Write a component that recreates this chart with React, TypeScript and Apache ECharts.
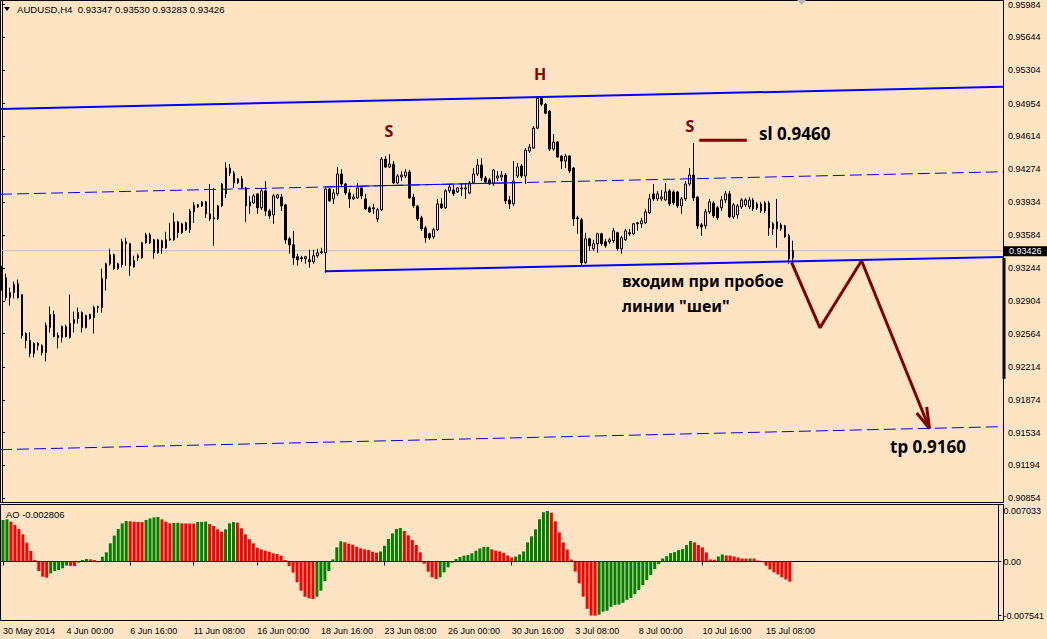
import React, { useEffect, useRef } from "react";
import * as echarts from "echarts";

const BG = "#FFE4C4";
const AXIS_FONT = "Liberation Sans";
const NOTE_FONT = "Noto Sans";
const MAROON = "#800000";
const BLUE = "#0000FF";

// ---- price data (H4 bars, 30 May 2014 08:00 .. 16 Jul 2014 08:00) ----
const opens = [
  0.93259, 0.93145, 0.92938, 0.9299, 0.93083, 0.92969, 0.92565, 0.92493, 0.92358, 0.92462,
  0.92441, 0.92368, 0.92627, 0.92762, 0.92544, 0.92524, 0.92638, 0.92524, 0.92669, 0.92721,
  0.92783, 0.92627, 0.92762, 0.92731, 0.92835, 0.92835, 0.93135, 0.9329, 0.93384, 0.93239,
  0.9328, 0.93518, 0.93498, 0.93259, 0.93352, 0.93352, 0.93508, 0.93591, 0.93539, 0.93404,
  0.93529, 0.93456, 0.93549, 0.93539, 0.93725, 0.93612, 0.93715, 0.93643, 0.93829, 0.93902,
  0.93891, 0.93933, 0.93808, 0.93767, 0.93757, 0.93891, 0.94016, 0.94285, 0.94233, 0.9413,
  0.94171, 0.94078, 0.93891, 0.93922, 0.94016, 0.93871, 0.94047, 0.93839, 0.93798, 0.93974,
  0.93984, 0.93902, 0.93549, 0.93487, 0.93363, 0.93352, 0.93342, 0.93332, 0.93311, 0.93373,
  0.93404, 0.93404, 0.94067, 0.93964, 0.94016, 0.94223, 0.94119, 0.94026, 0.93964, 0.93974,
  0.94078, 0.93964, 0.93871, 0.93871, 0.93757, 0.9385, 0.94378, 0.94295, 0.94326, 0.9413,
  0.94192, 0.94202, 0.94243, 0.93984, 0.93891, 0.93767, 0.93663, 0.93601, 0.9357, 0.93643,
  0.93912, 0.93871, 0.94047, 0.94057, 0.94036, 0.94078, 0.94067, 0.94026, 0.9413, 0.94223,
  0.94316, 0.94181, 0.94161, 0.94119, 0.94181, 0.94192, 0.94212, 0.93953, 0.93912, 0.94202,
  0.94306, 0.94202, 0.94461, 0.94492, 0.94699, 0.9501, 0.94948, 0.94875, 0.94482, 0.94554,
  0.94409, 0.94357, 0.94409, 0.94285, 0.93767, 0.93746, 0.93301, 0.93549, 0.93446, 0.93498,
  0.93601, 0.93518, 0.93518, 0.93529, 0.93612, 0.93446, 0.93539, 0.93612, 0.93601, 0.93705,
  0.93705, 0.93715, 0.93819, 0.94016, 0.93964, 0.93964, 0.93953, 0.94047, 0.94036, 0.94036,
  0.93891, 0.93964, 0.94119, 0.94212, 0.93984, 0.93694, 0.93684, 0.93829, 0.93922, 0.93871,
  0.93871, 0.93953, 0.94016, 0.93777, 0.93798, 0.93881, 0.93902, 0.93881, 0.93953, 0.93871,
  0.93839, 0.93839, 0.93922, 0.93705, 0.93725, 0.93653, 0.93684, 0.9358, 0.93347,
];
const highs = [
  0.9327, 0.93187, 0.93042, 0.93104, 0.93125, 0.92969, 0.92576, 0.92576, 0.92472, 0.92472,
  0.92451, 0.92679, 0.92845, 0.92803, 0.92576, 0.92648, 0.92658, 0.92969, 0.92793, 0.92835,
  0.92793, 0.92762, 0.92772, 0.92855, 0.92855, 0.93239, 0.93301, 0.93446, 0.93394, 0.93301,
  0.93549, 0.9356, 0.93508, 0.93373, 0.93394, 0.93518, 0.93612, 0.93612, 0.93549, 0.93549,
  0.93539, 0.93622, 0.93715, 0.93819, 0.93736, 0.93715, 0.93725, 0.9386, 0.93933, 0.93912,
  0.93943, 0.93943, 0.94119, 0.94078, 0.93902, 0.9413, 0.94347, 0.94326, 0.94254, 0.94181,
  0.94202, 0.94088, 0.93995, 0.94016, 0.94026, 0.94067, 0.9415, 0.9386, 0.94016, 0.94016,
  0.94016, 0.93912, 0.9357, 0.93632, 0.93394, 0.93373, 0.93373, 0.93435, 0.93435, 0.93446,
  0.93456, 0.94078, 0.94078, 0.94067, 0.94295, 0.94275, 0.9413, 0.94067, 0.94016, 0.9413,
  0.94098, 0.94016, 0.93891, 0.93912, 0.93871, 0.94399, 0.94409, 0.9443, 0.94357, 0.94223,
  0.94254, 0.94275, 0.94264, 0.94016, 0.93902, 0.93788, 0.93684, 0.93612, 0.93663, 0.93964,
  0.93974, 0.94067, 0.94119, 0.94109, 0.94088, 0.94119, 0.94119, 0.9415, 0.94285, 0.94378,
  0.94389, 0.94202, 0.94181, 0.94275, 0.94254, 0.94254, 0.94233, 0.93995, 0.94357, 0.94337,
  0.94326, 0.94492, 0.94534, 0.9472, 0.95031, 0.9502, 0.94958, 0.94886, 0.94637, 0.94565,
  0.9442, 0.9443, 0.9442, 0.94295, 0.93788, 0.93767, 0.93612, 0.9356, 0.93539, 0.93612,
  0.93612, 0.93549, 0.9356, 0.93663, 0.93622, 0.9358, 0.93653, 0.93653, 0.93715, 0.93725,
  0.93767, 0.9386, 0.94016, 0.94119, 0.94047, 0.94057, 0.9413, 0.94067, 0.94057, 0.94047,
  0.93984, 0.9415, 0.94285, 0.94544, 0.93995, 0.93715, 0.9386, 0.93964, 0.93943, 0.93891,
  0.93995, 0.94047, 0.94047, 0.93922, 0.93912, 0.93974, 0.93974, 0.93984, 0.93974, 0.93933,
  0.93933, 0.93943, 0.93943, 0.93725, 0.93964, 0.93715, 0.93694, 0.93601, 0.9353,
];
const lows = [
  0.93011, 0.92907, 0.92855, 0.92928, 0.92928, 0.92513, 0.9241, 0.92317, 0.92317, 0.92389,
  0.92337, 0.92275, 0.92576, 0.92524, 0.9241, 0.92472, 0.92524, 0.92513, 0.92576, 0.92669,
  0.92576, 0.92617, 0.9271, 0.92565, 0.92783, 0.92783, 0.93011, 0.9327, 0.93228, 0.93228,
  0.93249, 0.9327, 0.93166, 0.93249, 0.93321, 0.93342, 0.93498, 0.93498, 0.93342, 0.93394,
  0.93394, 0.93446, 0.93529, 0.93529, 0.9356, 0.93601, 0.93632, 0.93612, 0.93715, 0.93871,
  0.93881, 0.93767, 0.93736, 0.93477, 0.93746, 0.93881, 0.93974, 0.94202, 0.94078, 0.94119,
  0.94067, 0.93725, 0.93808, 0.93912, 0.93808, 0.9385, 0.93788, 0.93757, 0.93705, 0.93964,
  0.93839, 0.93498, 0.93394, 0.9328, 0.9327, 0.93311, 0.9329, 0.93249, 0.9329, 0.93352,
  0.93394, 0.93197, 0.93933, 0.93912, 0.93995, 0.94088, 0.94005, 0.93871, 0.93953, 0.93964,
  0.93964, 0.9385, 0.93819, 0.93808, 0.93725, 0.93839, 0.94285, 0.94285, 0.94119, 0.94119,
  0.9415, 0.94181, 0.93964, 0.93871, 0.93736, 0.93632, 0.93508, 0.93539, 0.93549, 0.93632,
  0.9386, 0.9386, 0.94026, 0.93995, 0.94026, 0.93995, 0.93964, 0.94016, 0.94119, 0.94202,
  0.9415, 0.9413, 0.94109, 0.94098, 0.9415, 0.9415, 0.93912, 0.9386, 0.93891, 0.94181,
  0.94181, 0.94119, 0.9444, 0.94482, 0.94689, 0.94927, 0.94844, 0.94461, 0.94461, 0.94389,
  0.94275, 0.94285, 0.94233, 0.93684, 0.93601, 0.9327, 0.9329, 0.93425, 0.93425, 0.93404,
  0.93477, 0.93456, 0.93498, 0.93508, 0.93425, 0.93394, 0.93529, 0.9358, 0.93591, 0.93632,
  0.93663, 0.93705, 0.93808, 0.93943, 0.93943, 0.93943, 0.93943, 0.93891, 0.93902, 0.93871,
  0.93808, 0.93943, 0.94098, 0.93943, 0.93653, 0.9358, 0.93653, 0.93808, 0.93767, 0.93746,
  0.93839, 0.93922, 0.93767, 0.93757, 0.93757, 0.9386, 0.93881, 0.9386, 0.93839, 0.9385,
  0.93819, 0.93819, 0.9358, 0.93591, 0.93456, 0.93632, 0.9356, 0.9329, 0.93283,
];
const closes = [
  0.93135, 0.92938, 0.9299, 0.93073, 0.92938, 0.92544, 0.92493, 0.92358, 0.92462, 0.92441,
  0.92368, 0.92648, 0.92762, 0.92534, 0.92524, 0.92638, 0.92534, 0.92669, 0.9271, 0.92783,
  0.92627, 0.92752, 0.92721, 0.92835, 0.92845, 0.93135, 0.9329, 0.93384, 0.93239, 0.9329,
  0.93518, 0.93498, 0.9327, 0.93321, 0.93373, 0.93508, 0.93591, 0.93508, 0.93404, 0.93539,
  0.93456, 0.93539, 0.93539, 0.93725, 0.93612, 0.93705, 0.93643, 0.93839, 0.93902, 0.93881,
  0.93933, 0.93808, 0.93757, 0.93757, 0.93891, 0.94119, 0.94285, 0.94233, 0.9413, 0.94171,
  0.94078, 0.93891, 0.93933, 0.93995, 0.93871, 0.94047, 0.93839, 0.93788, 0.93995, 0.94005,
  0.93891, 0.93539, 0.93487, 0.93352, 0.93332, 0.93342, 0.93363, 0.93311, 0.93373, 0.93404,
  0.93415, 0.94067, 0.93943, 0.94026, 0.94223, 0.94119, 0.94026, 0.93964, 0.93984, 0.94078,
  0.93995, 0.9386, 0.93829, 0.9386, 0.9385, 0.94378, 0.94295, 0.94326, 0.9413, 0.94202,
  0.94212, 0.94243, 0.93974, 0.93891, 0.93757, 0.93653, 0.9356, 0.9356, 0.93643, 0.93912,
  0.93871, 0.94047, 0.94088, 0.94016, 0.94078, 0.94067, 0.94078, 0.9413, 0.94223, 0.94316,
  0.94181, 0.9414, 0.94119, 0.94264, 0.94202, 0.94212, 0.93943, 0.93912, 0.9415, 0.94295,
  0.94202, 0.94471, 0.94502, 0.94699, 0.9501, 0.94948, 0.94855, 0.94482, 0.94554, 0.94399,
  0.94357, 0.94409, 0.94254, 0.93757, 0.93757, 0.93301, 0.93549, 0.93477, 0.93498, 0.93601,
  0.93498, 0.93477, 0.93539, 0.93632, 0.93446, 0.9356, 0.93632, 0.93601, 0.93705, 0.93715,
  0.93736, 0.93829, 0.93964, 0.93964, 0.94016, 0.93984, 0.94036, 0.93912, 0.93922, 0.93891,
  0.93964, 0.94119, 0.94212, 0.93974, 0.93684, 0.93674, 0.93829, 0.93933, 0.93788, 0.93767,
  0.93953, 0.94016, 0.93777, 0.93902, 0.93891, 0.93953, 0.93953, 0.93953, 0.9386, 0.93912,
  0.93912, 0.93922, 0.93663, 0.93653, 0.93653, 0.93694, 0.9357, 0.93342, 0.93426,
];

// ---- Awesome Oscillator values (one per bar) ----
const aoValues = [
  0.00578, 0.00587, 0.00554, 0.00508, 0.00452, 0.00378, 0.00262, 0.00146, 0.00021, -0.00132,
  -0.00211, -0.00225, -0.00165, -0.00132, -0.00118, -0.00095, -0.00055, -0.00062, -0.00064, -0.00016,
  0.00021, 0.00035, 0.0003, 0.0002, -0.0001, 0.00067, 0.00128, 0.00253, 0.0036, 0.00452,
  0.00531, 0.00564, 0.0056, 0.00552, 0.0055, 0.00548, 0.00578, 0.006, 0.00615, 0.00619,
  0.00587, 0.00554, 0.00531, 0.00536, 0.00538, 0.00531, 0.0053, 0.00529, 0.00528, 0.0055,
  0.00552, 0.00555, 0.00522, 0.00494, 0.00448, 0.00415, 0.00448, 0.00531, 0.0055, 0.0054,
  0.00462, 0.00378, 0.00309, 0.00253, 0.00193, 0.00169, 0.00151, 0.00137, 0.00114, 0.00104,
  0.00081, 0.00021, -0.00063, -0.00155, -0.0029, -0.00406, -0.0049, -0.00513, -0.00522, -0.0049,
  -0.00406, -0.00271, -0.00132, 0.0003, 0.00197, 0.00281, 0.00267, 0.00248, 0.00234, 0.00206,
  0.00183, 0.00169, 0.0016, 0.00137, 0.00123, 0.0014, 0.0022, 0.00313, 0.00392, 0.00452,
  0.00466, 0.00425, 0.00364, 0.00299, 0.0023, 0.00128, -0.0003, -0.00142, -0.0022, -0.00244,
  -0.0022, -0.00151, -0.00081, -0.00016, 0.00035, 0.00063, 0.00081, 0.0009, 0.00114, 0.00151,
  0.00183, 0.00202, 0.00204, 0.00169, 0.00151, 0.0014, 0.00121, 0.00084, 0.00056, 0.0007,
  0.00098, 0.0014, 0.00266, 0.0035, 0.00448, 0.00588, 0.00686, 0.007033, 0.0068, 0.0056,
  0.00406, 0.00266, 0.00168, 0.00028, -0.0014, -0.00304, -0.0049, -0.00658, -0.00752, -0.007541,
  -0.00741, -0.00699, -0.00685, -0.0063, -0.00603, -0.006, -0.00575, -0.00534, -0.00506, -0.00455,
  -0.00396, -0.00327, -0.00258, -0.00189, -0.00106, -0.00037, 0.00042, 0.00075, 0.00117, 0.00131,
  0.00159, 0.00173, 0.00229, 0.00285, 0.00266, 0.00229, 0.00196, 0.00126, 0.00028, 0.00025,
  0.0007, 0.00098, 0.00084, 0.00082, 0.0007, 0.00056, 0.00042, 0.0004, 0.00043, 0.00041,
  0.00014, -0.0001, -0.00055, -0.0011, -0.0015, -0.0018, -0.0022, -0.0025, -0.002806,
];

// ---- axis ticks ----
const priceTicks = [
  0.95984, 0.95644, 0.95304, 0.94954, 0.94614, 0.94274, 0.93934, 0.93584,
  0.93244, 0.92904, 0.92564, 0.92214, 0.91874, 0.91534, 0.91194, 0.90854,
];
const aoTicks = [0.007033, 0, -0.007541];
const aoTickLabels = ["0.007033", "0.00", "-0.007541"];
const aoTickMarks = [0, -0.007541];
const xTickIndex = [0, 16, 32, 48, 64, 80, 96, 112, 128, 144, 160, 176, 192];
const xTickLabels = [
  "30 May 2014", "4 Jun 00:00", "6 Jun 16:00", "11 Jun 08:00", "16 Jun 00:00",
  "18 Jun 16:00", "23 Jun 08:00", "26 Jun 00:00", "30 Jun 16:00", "3 Jul 08:00",
  "8 Jul 00:00", "10 Jul 16:00", "15 Jul 08:00",
];

// ---- drawn objects: [bar index, price] ----
const upperChannel = [[-0.5, 0.94899], [250.5, 0.95128]];
const middleDashed = [[-0.5, 0.94012], [250.5, 0.94246]];
const middleSolid = [[80.8, 0.94088], [130.1, 0.94134]];
const lowerDashed = [[-0.5, 0.91358], [250.5, 0.91597]];
const neckline = [[80.8, 0.93211], [250.5, 0.93361]];
const projection = [[197.6, 0.93304], [204.7, 0.92624], [215.1, 0.93321], [232.1, 0.91578]];
const arrowHead = [[228.9, 0.91739], [232.1, 0.91578], [231.4, 0.91802]];
const stopLoss = [[174.5, 0.94572], [186.4, 0.94572]];

const SLOTS = 251;
const START_UTC = Date.UTC(2014, 4, 30, 8);
const MONTHS = ["Jan", "Feb", "Mar", "Apr", "May", "Jun", "Jul", "Aug", "Sep", "Oct", "Nov", "Dec"];

function barTimes(n: number): string[] {
  const out: string[] = [];
  let t = START_UTC;
  while (out.length < n) {
    const d = new Date(t);
    const wd = d.getUTCDay();
    if (wd !== 0 && wd !== 6) {
      const hh = String(d.getUTCHours()).padStart(2, "0");
      out.push(`${d.getUTCDate()} ${MONTHS[d.getUTCMonth()]} ${hh}:00`);
    }
    t += 4 * 3600 * 1000;
  }
  return out;
}

export default function App() {
  const ref = useRef<HTMLDivElement>(null);

  useEffect(() => {
    document.body.style.margin = "0";
    const chart = echarts.init(ref.current as HTMLDivElement, null, { renderer: "svg" });
    const categories = barTimes(SLOTS);
    const candles = opens.map((o, i) => [o, closes[i], lows[i], highs[i]]);
    const aoData = aoValues.map((v, i) => ({
      value: v,
      itemStyle: { color: i === 0 || v > aoValues[i - 1] ? "#008000" : "#FF0000" },
    }));
    const lastClose = closes[closes.length - 1];
    const isTick = (i: number) => xTickIndex.indexOf(i) >= 0;

    const overlay = (data: number[][], color: string, width: number, type: any, z = 4) => ({
      type: "line",
      xAxisIndex: 1,
      yAxisIndex: 0,
      data,
      symbol: "none",
      silent: true,
      z,
      lineStyle: { color, width, type, cap: "butt" },
    });

    const option: any = {
      animation: false,
      backgroundColor: BG,
      grid: [
        { left: 0, top: 0, width: 1003, height: 502 },
        { left: 0, top: 505, width: 1003, height: 115 },
      ],
      xAxis: [
        { type: "category", gridIndex: 0, data: categories, show: false, boundaryGap: true },
        { type: "value", gridIndex: 0, min: -0.5, max: SLOTS - 0.5, show: false },
        {
          type: "category",
          gridIndex: 1,
          data: categories,
          boundaryGap: true,
          axisLine: { show: true, lineStyle: { color: "#000", width: 1 } },
          axisTick: {
            show: true,
            alignWithLabel: true,
            interval: (i: number) => isTick(i),
            length: 4,
            lineStyle: { color: "#000" },
          },
          axisLabel: {
            interval: (i: number) => isTick(i),
            formatter: (_v: string, i: number) => xTickLabels[xTickIndex.indexOf(i)] || "",
            align: "left",
            margin: 6,
            fontSize: 9,
            fontFamily: AXIS_FONT,
            color: "#000",
          },
          splitLine: { show: false },
        },
      ],
      yAxis: [
        {
          type: "value",
          gridIndex: 0,
          position: "right",
          min: 0.90814,
          max: 0.96015,
          axisLine: { show: true, lineStyle: { color: "#000", width: 1 } },
          axisTick: { show: true, length: 3, customValues: priceTicks, lineStyle: { color: "#000" } },
          axisLabel: {
            customValues: priceTicks,
            formatter: (v: number) => v.toFixed(5),
            margin: 5,
            fontSize: 9,
            fontFamily: AXIS_FONT,
            color: "#000",
          },
          splitLine: { show: false },
        },
        {
          type: "value",
          gridIndex: 1,
          position: "right",
          min: -0.008143,
          max: 0.007865,
          axisLine: { show: true, lineStyle: { color: "#000", width: 1 } },
          axisTick: { show: true, length: 3, customValues: aoTickMarks, lineStyle: { color: "#000" } },
          axisLabel: {
            customValues: aoTicks,
            formatter: (v: number) => {
              let best = 0;
              aoTicks.forEach((t, k) => {
                if (Math.abs(t - v) < Math.abs(aoTicks[best] - v)) best = k;
              });
              return aoTickLabels[best];
            },
            margin: 5,
            fontSize: 9,
            fontFamily: AXIS_FONT,
            color: "#000",
          },
          splitLine: { show: false },
        },
      ],
      series: [
        overlay([[-0.5, lastClose], [SLOTS - 0.5, lastClose]], "#C0C0C0", 1, "solid", 1),
        {
          type: "candlestick",
          xAxisIndex: 0,
          yAxisIndex: 0,
          data: candles,
          barWidth: 2,
          z: 2,
          silent: true,
          itemStyle: {
            color: BG,
            color0: "#000",
            borderColor: "#000",
            borderColor0: "#000",
            borderWidth: 1,
          },
        },
        overlay(upperChannel, BLUE, 2, "solid"),
        overlay(middleDashed, BLUE, 1, [12, 5]),
        overlay(middleSolid, BLUE, 1, "solid"),
        overlay(lowerDashed, BLUE, 1, [12, 5]),
        overlay(neckline, BLUE, 2, "solid"),
        overlay(projection, MAROON, 3, "solid", 5),
        overlay(arrowHead, MAROON, 3, "solid", 5),
        overlay(stopLoss, MAROON, 3, "solid", 5),
        {
          type: "bar",
          xAxisIndex: 2,
          yAxisIndex: 1,
          data: aoData,
          barWidth: 3,
          silent: true,
        },
      ],
    };
    chart.setOption(option);

    const py = chart.convertToPixel({ yAxisIndex: 0 }, lastClose) as number;
    const note = (text: string, x: number, y: number, size: number, color: string, extra: any = {}) => ({
      type: "text",
      z: 100,
      silent: true,
      style: {
        text,
        x,
        y,
        fill: color,
        fontSize: size,
        fontWeight: "bold",
        fontFamily: NOTE_FONT,
        align: "left",
        verticalAlign: "middle",
        textAlign: "left",
        textVerticalAlign: "middle",
        ...extra,
      },
    });
    const small = (text: string, x: number, y: number, color = "#000", size = 9) => ({
      type: "text",
      z: 100,
      silent: true,
      style: {
        text,
        x,
        y,
        fill: color,
        fontSize: size,
        fontFamily: AXIS_FONT,
        align: "left",
        verticalAlign: "middle",
        textAlign: "left",
        textVerticalAlign: "middle",
      },
    });

    chart.setOption({
      graphic: [
        { type: "rect", z: 100, silent: true, shape: { x: 0.5, y: 0.5, width: 1003, height: 502 }, style: { fill: "none", stroke: "#000", lineWidth: 1 } },
        { type: "rect", z: 100, silent: true, shape: { x: 0.5, y: 504.5, width: 1003, height: 116 }, style: { fill: "none", stroke: "#000", lineWidth: 1 } },
        { type: "polygon", z: 100, silent: true, shape: { points: [[4, 7], [10, 7], [7, 11]] }, style: { fill: "#000" } },
        small("AUDUSD,H4  0.93347 0.93530 0.93283 0.93426", 17, 9, "#000", 9.6),
        { type: "polygon", z: 100, silent: true, shape: { points: [[797, 0], [806, 0], [801.5, 5]] }, style: { fill: "#B4B4B4" } },
        { type: "rect", z: 100, silent: true, shape: { x: 1002.5, y: 258, width: 3, height: 121 }, style: { fill: "#000" } },
        small("AO -0.002806", 6, 514, "#000", 9.4),
        note("H", 540, 74, 16, MAROON, { align: "center", textAlign: "center" }),
        note("S", 389, 131, 16, MAROON, { align: "center", textAlign: "center" }),
        note("S", 690, 126, 16, MAROON, { align: "center", textAlign: "center" }),
        note("sl 0.9460", 759, 133, 17, "#000"),
        note("входим при пробое", 622, 281, 16, "#000"),
        note("линии \"шеи\"", 622, 306, 16, "#000"),
        note("tp 0.9160", 890, 446, 17, "#000"),
        { type: "rect", z: 100, silent: true, shape: { x: 1004, y: py - 4.5, width: 43, height: 10 }, style: { fill: "#000" } },
        small(lastClose.toFixed(5), 1009, py + 0.5, "#FFF"),
      ],
    });

    return () => chart.dispose();
  }, []);

  return <div ref={ref} style={{ width: 1047, height: 639, background: BG }} />;
}
